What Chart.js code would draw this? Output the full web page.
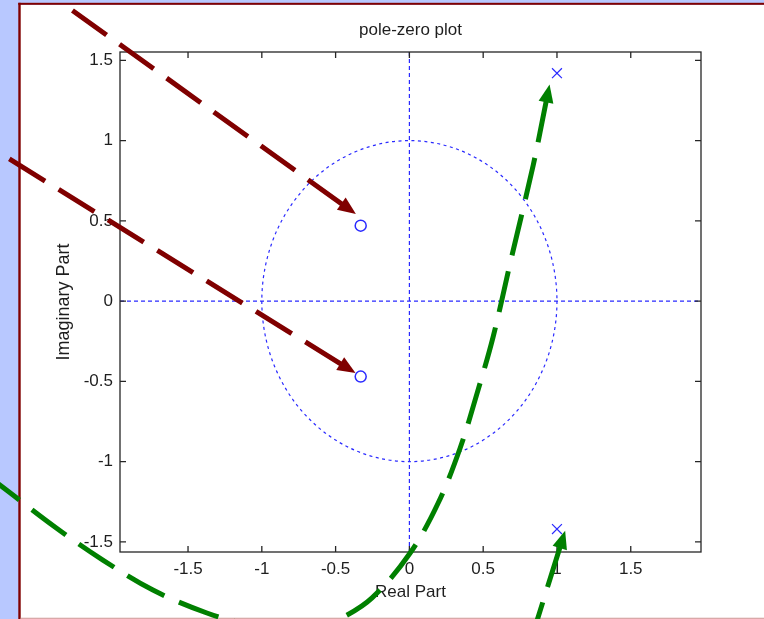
<!DOCTYPE html>
<html>
<head>
<meta charset="utf-8">
<title>pole-zero plot</title>
<script src="https://cdn.jsdelivr.net/npm/chart.js@4.4.1/dist/chart.umd.min.js"></script>
<style>
  html, body { margin: 0; padding: 0; background: #b8c8ff; overflow: hidden; }
</style>
</head>
<body>
<canvas id="pz" width="764" height="619"></canvas>
<script>
// ---- chart values ----
const zerosRe = [-0.33, -0.33];
const zerosIm = [0.47, -0.47];
const polesRe = [1.0, 1.0];
const polesIm = [1.42, -1.42];

const xTicks = [-1.5, -1, -0.5, 0, 0.5, 1, 1.5];
const yTicks = [-1.5, -1, -0.5, 0, 0.5, 1, 1.5];
const xRange = [-1.961, 1.976];
const yRange = [-1.563, 1.552];

// unit circle: centre (re, im) and radius
const unitCircle = [0, 0, 1];

// overlay arrows, tail -> head, in data units
const redArrow1X = [-2.314, -0.456];
const redArrow1Y = [1.831, 0.604];
const redArrow2X = [-2.775, -0.463];
const redArrow2Y = [0.922, -0.392];
const greenCurveX = [-2.843, -2.775, -2.402, -2.077, -1.738, -1.372, -1.080, -0.809, -0.605, -0.470, -0.253, 0.005, 0.195, 0.344, 0.459, 0.567, 0.683, 0.839, 0.927];
const greenCurveY = [-1.102, -1.146, -1.407, -1.613, -1.800, -1.943, -2.017, -2.042, -2.024, -1.980, -1.849, -1.569, -1.258, -0.915, -0.573, -0.224, 0.237, 0.847, 1.245];
const greenArrow2X = [0.845, 1.021];
const greenArrow2Y = [-2.049, -1.532];

const BLUE = '#2a2aff';
const TEXT = '#1e1e1e';
const DARK_RED = '#800000';
const GREEN = '#008000';

Chart.defaults.font.family = '"Liberation Sans", Arial, Helvetica, sans-serif';
Chart.defaults.font.size = 17;
Chart.defaults.color = TEXT;

const arrows = [
    { xs: redArrow1X, ys: redArrow1Y, color: DARK_RED },
    { xs: redArrow2X, ys: redArrow2Y, color: DARK_RED },
    { xs: greenCurveX, ys: greenCurveY, color: GREEN },
    { xs: greenArrow2X, ys: greenArrow2Y, color: GREEN },
];

const toPoints = (xs, ys) => xs.map((v, i) => ({ x: v, y: ys[i] }));

// figure window look: blue strip, white panel with dark red edge
const backdrop = {
    id: 'backdrop',
    beforeDraw(chart) {
        const { ctx, width, height } = chart;
        ctx.save();
        ctx.fillStyle = '#b8c8ff';
        ctx.fillRect(0, 0, width, height);
        ctx.fillStyle = '#ffffff';
        ctx.fillRect(20, 5, width - 20, height - 5);
        ctx.fillStyle = DARK_RED;
        ctx.fillRect(18.3, 2.8, 2.4, height - 2.8);
        ctx.fillRect(18.3, 2.8, width - 18.3, 2);
        ctx.fillStyle = '#d9a9a9';
        ctx.fillRect(20.7, height - 1.3, width - 20.7, 1.3);
        ctx.restore();
    }
};

// zero lines, unit circle, axes box with inward ticks
const axesBox = {
    id: 'axesBox',
    beforeDatasetsDraw(chart) {
        const { ctx, chartArea: a, scales: { x, y } } = chart;
        ctx.save();
        ctx.strokeStyle = BLUE;
        ctx.lineWidth = 1.2;
        ctx.setLineDash([4, 3]);
        const x0 = x.getPixelForValue(0);
        const y0 = y.getPixelForValue(0);
        ctx.beginPath();
        ctx.moveTo(a.left, y0); ctx.lineTo(a.right, y0);
        ctx.moveTo(x0, a.top); ctx.lineTo(x0, a.bottom);
        ctx.stroke();

        ctx.setLineDash([3, 3.5]);
        const cx = x.getPixelForValue(unitCircle[0]);
        const cy = y.getPixelForValue(unitCircle[1]);
        const rx = x.getPixelForValue(unitCircle[0] + unitCircle[2]) - cx;
        const ry = cy - y.getPixelForValue(unitCircle[1] + unitCircle[2]);
        ctx.beginPath();
        ctx.ellipse(cx, cy, rx, ry, 0, 0, Math.PI * 2);
        ctx.stroke();

        ctx.setLineDash([]);
        ctx.strokeStyle = '#262626';
        ctx.lineWidth = 1.3;
        ctx.strokeRect(a.left, a.top, a.right - a.left, a.bottom - a.top);
        ctx.beginPath();
        x.ticks.forEach(t => {
            const px = x.getPixelForValue(t.value);
            ctx.moveTo(px, a.bottom); ctx.lineTo(px, a.bottom - 6);
            ctx.moveTo(px, a.top); ctx.lineTo(px, a.top + 6);
        });
        y.ticks.forEach(t => {
            const py = y.getPixelForValue(t.value);
            ctx.moveTo(a.left, py); ctx.lineTo(a.left + 6, py);
            ctx.moveTo(a.right, py); ctx.lineTo(a.right - 6, py);
        });
        ctx.stroke();
        ctx.restore();
    }
};

// filled heads at the end of each overlay arrow
const arrowHeads = {
    id: 'arrowHeads',
    afterDatasetsDraw(chart) {
        const { ctx, scales: { x, y } } = chart;
        ctx.save();
        arrows.forEach(ar => {
            const n = ar.xs.length;
            const px1 = x.getPixelForValue(ar.xs[n - 1]), py1 = y.getPixelForValue(ar.ys[n - 1]);
            const px0 = x.getPixelForValue(ar.xs[n - 2]), py0 = y.getPixelForValue(ar.ys[n - 2]);
            let dx = px1 - px0, dy = py1 - py0;
            const len = Math.hypot(dx, dy);
            dx /= len; dy /= len;
            const L = 17, W = 7.5;
            const bx = px1 - dx, by = py1 - dy;
            ctx.fillStyle = ar.color;
            ctx.beginPath();
            ctx.moveTo(px1 + dx * L, py1 + dy * L);
            ctx.lineTo(bx - dy * W, by + dx * W);
            ctx.lineTo(bx + dy * W, by - dx * W);
            ctx.closePath();
            ctx.fill();
        });
        ctx.restore();
    }
};

// dashes start at the head end, as in the picture
const arrowDatasets = arrows.map((ar, i) => ({
    label: 'arrow' + i,
    data: toPoints(ar.xs, ar.ys).reverse(),
    showLine: true,
    borderColor: ar.color,
    borderWidth: 5,
    borderDash: [42, 16],
    borderCapStyle: 'butt',
    tension: ar.xs.length > 2 ? 0.35 : 0,
    capBezierPoints: false,
    pointRadius: 0,
    fill: false,
    clip: false,
    order: 0
}));

new Chart(document.getElementById('pz'), {
    type: 'scatter',
    data: {
        datasets: [
            ...arrowDatasets,
            {
                label: 'zeros',
                data: toPoints(zerosRe, zerosIm),
                pointStyle: 'circle',
                pointRadius: 5.5,
                pointBorderWidth: 1.5,
                pointBorderColor: BLUE,
                pointBackgroundColor: 'rgba(0,0,0,0)',
                order: 1
            },
            {
                label: 'poles',
                data: toPoints(polesRe, polesIm),
                pointStyle: 'crossRot',
                pointRadius: 7,
                pointBorderWidth: 1.2,
                pointBorderColor: BLUE,
                order: 1
            }
        ]
    },
    options: {
        responsive: false,
        animation: false,
        events: [],
        layout: { padding: { left: 20, right: 63, top: 0, bottom: 0 } },
        plugins: {
            legend: { display: false },
            tooltip: { enabled: false },
            title: {
                display: true,
                text: 'pole-zero plot',
                fullSize: false,
                color: TEXT,
                font: { size: 17, weight: 'normal' },
                padding: { top: 20, bottom: 11.6 }
            }
        },
        scales: {
            x: {
                type: 'linear',
                min: xRange[0],
                max: xRange[1],
                afterBuildTicks: s => { s.ticks = xTicks.map(v => ({ value: v })); },
                afterFit: s => { s.height = 67; },
                grid: { display: false, drawTicks: false },
                border: { display: false },
                ticks: { padding: 7, autoSkip: false, maxRotation: 0, color: TEXT, callback: v => String(v) },
                title: { display: true, text: 'Real Part', color: TEXT, font: { size: 17 }, padding: { top: 0, bottom: 16.3 } }
            },
            y: {
                type: 'linear',
                min: yRange[0],
                max: yRange[1],
                afterBuildTicks: s => { s.ticks = yTicks.map(v => ({ value: v })); },
                afterFit: s => { s.width = 100; },
                grid: { display: false, drawTicks: false },
                border: { display: false },
                ticks: { padding: 7, autoSkip: false, color: TEXT, callback: v => String(v) },
                title: { display: true, text: 'Imaginary Part', color: TEXT, font: { size: 18 }, padding: { top: 33.2, bottom: 0 } }
            }
        }
    },
    plugins: [backdrop, axesBox, arrowHeads]
});
</script>
</body>
</html>
